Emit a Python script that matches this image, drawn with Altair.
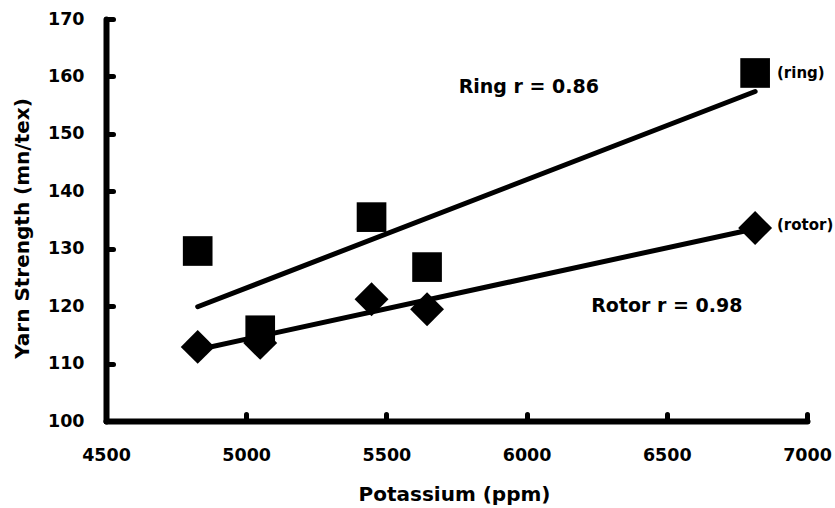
import altair as alt
import pandas as pd

# ---- data ----
potassium = [4827, 5050, 5447, 5645, 6815]
ring_strength = [129.6, 115.8, 135.5, 126.8, 160.6]
rotor_strength = [112.9, 113.6, 121.2, 119.45, 133.6]

x_ticks = [4500, 5000, 5500, 6000, 6500, 7000]
y_ticks = [100, 110, 120, 130, 140, 150, 160, 170]

big_text = ["Ring r = 0.86", "Rotor r = 0.98"]
big_x = [6008, 6500]
big_y = [157.1, 119.0]

small_text = ["(ring)", "(rotor)"]
small_x = [6893, 6893]
small_y = [159.7, 133.3]

FONT = "DejaVu Sans"

rows = []
for k, yr, yo in zip(potassium, ring_strength, rotor_strength):
    rows.append({"k": k, "y": yr, "series": "ring"})
    rows.append({"k": k, "y": yo, "series": "rotor"})
df = pd.DataFrame(rows)

xscale = alt.Scale(domain=[4500, 7000], nice=False, zero=False)
yscale = alt.Scale(domain=[100, 170], nice=False, zero=False)

common_axis = dict(
    grid=False,
    domainColor="black",
    domainWidth=6,
    domainCap="round",
    tickColor="black",
    tickWidth=5,
    tickCap="round",
    tickSize={"expr": "-7"},
    labelFont=FONT,
    labelFontWeight="bold",
    labelFontSize=17.5,
    labelColor="black",
    titleFont=FONT,
    titleFontWeight="bold",
    titleFontSize=20,
    titleColor="black",
)

xaxis = alt.Axis(
    values=x_ticks,
    format="d",
    labelFlush=False,
    labelOverlap=False,
    labelBaseline="middle",
    labelPadding=41.5,
    title="Potassium (ppm)",
    titleX=348,
    titleY=73,
    titleBaseline="middle",
    titleAlign="center",
    **common_axis,
)
yaxis = alt.Axis(
    values=y_ticks,
    format="d",
    labelFlush=False,
    labelOverlap=False,
    labelPadding=29,
    title="Yarn Strength (mn/tex)",
    titleX=-84,
    titleY=209,
    titleBaseline="middle",
    titleAlign="center",
    titleAngle=270,
    **common_axis,
)

base = alt.Chart(df)

points = base.mark_point(filled=True, opacity=1, color="black", strokeWidth=0).encode(
    x=alt.X("k:Q", scale=xscale, axis=xaxis),
    y=alt.Y("y:Q", scale=yscale, axis=yaxis),
    shape=alt.Shape("series:N", scale=alt.Scale(domain=["ring", "rotor"], range=["square", "diamond"]), legend=None),
    size=alt.Size("series:N", scale=alt.Scale(domain=["ring", "rotor"], range=[880, 1150]), legend=None),
)

lines = base.transform_regression("k", "y", groupby=["series"]).mark_line(
    color="black", strokeWidth=5, strokeCap="round"
).encode(
    x=alt.X("k:Q", scale=xscale),
    y=alt.Y("y:Q", scale=yscale),
    detail="series:N",
)

big_df = pd.DataFrame({"t": big_text, "k": big_x, "y": big_y})
small_df = pd.DataFrame({"t": small_text, "k": small_x, "y": small_y})

big = alt.Chart(big_df).mark_text(
    font=FONT, fontWeight="bold", fontSize=19, color="black", align="center", baseline="alphabetic"
).encode(x=alt.X("k:Q", scale=xscale), y=alt.Y("y:Q", scale=yscale), text="t:N")

small = alt.Chart(small_df).mark_text(
    font=FONT, fontWeight="bold", fontSize=15, color="black", align="left", baseline="alphabetic"
).encode(x=alt.X("k:Q", scale=xscale), y=alt.Y("y:Q", scale=yscale), text="t:N")

chart = (
    alt.layer(lines, points, big, small)
    .properties(
        width=701,
        height=402,
        autosize=alt.AutoSizeParams(type="none"),
        padding={"left": 106, "top": 19, "right": 28, "bottom": 87},
        background="white",
    )
    .configure_view(stroke=None)
)

chart.save("out.html", embed_options={"renderer": "svg", "actions": False})
